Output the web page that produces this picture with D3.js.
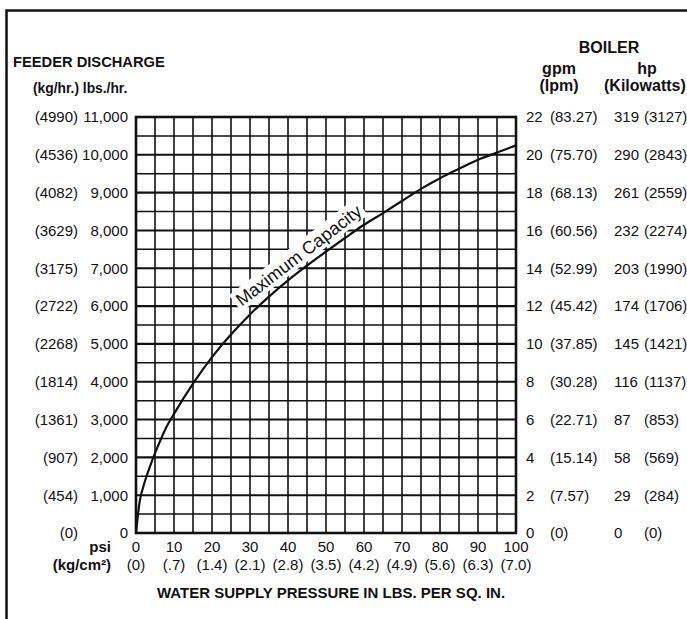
<!DOCTYPE html>
<html>
<head>
<meta charset="utf-8">
<script src="https://cdn.jsdelivr.net/npm/d3@7"></script>
<style>
  body { margin: 0; background: #fff; }
  svg text { font-family: "Liberation Sans", Arial, Helvetica, sans-serif; fill: #111; }
</style>
</head>
<body>
<svg id="chart" width="687" height="619"></svg>
<script>
const psi = [0, 1, 2, 4, 6, 8, 10, 15, 20, 25, 30, 35, 40, 45, 50, 55, 60, 65, 70, 75, 80, 85, 90, 95, 100];
const lbs = [0, 850, 1250, 1850, 2350, 2800, 3150, 3950, 4650, 5250, 5780, 6250, 6680, 7070, 7440, 7800, 8150, 8460, 8780, 9100, 9380, 9630, 9870, 10060, 10250];

const psiTicks = [0, 10, 20, 30, 40, 50, 60, 70, 80, 90, 100];
const kgcmLabels = ["(0)", "(.7)", "(1.4)", "(2.1)", "(2.8)", "(3.5)", "(4.2)", "(4.9)", "(5.6)", "(6.3)", "(7.0)"];

const lbsTicks = [0, 1000, 2000, 3000, 4000, 5000, 6000, 7000, 8000, 9000, 10000, 11000];
const kgLabels = ["(0)", "(454)", "(907)", "(1361)", "(1814)", "(2268)", "(2722)", "(3175)", "(3629)", "(4082)", "(4536)", "(4990)"];
const gpmLabels = ["0", "2", "4", "6", "8", "10", "12", "14", "16", "18", "20", "22"];
const lpmLabels = ["(0)", "(7.57)", "(15.14)", "(22.71)", "(30.28)", "(37.85)", "(45.42)", "(52.99)", "(60.56)", "(68.13)", "(75.70)", "(83.27)"];
const hpLabels = ["0", "29", "58", "87", "116", "145", "174", "203", "232", "261", "290", "319"];
const kwLabels = ["(0)", "(284)", "(569)", "(853)", "(1137)", "(1421)", "(1706)", "(1990)", "(2274)", "(2559)", "(2843)", "(3127)"];

const curveLabel = "Maximum Capacity";
const labelAt = {psi: 27.8, lbs: 5980};

const svg = d3.select("#chart");

// outer frame (runs off the right and bottom edges)
svg.append("rect")
  .attr("x", 6.5).attr("y", 10.5)
  .attr("width", 720).attr("height", 700)
  .attr("fill", "none").attr("stroke", "#111").attr("stroke-width", 2.5);

const x = d3.scaleLinear().domain([0, 100]).range([136, 516]);
const y = d3.scaleLinear().domain([0, 11000]).range([533, 117]);

const g = svg.append("g");

// grid
g.selectAll(".vline")
  .data(d3.range(0, 101, 5))
  .enter().append("line")
  .attr("x1", d => x(d)).attr("x2", d => x(d))
  .attr("y1", y(0)).attr("y2", y(11000))
  .attr("stroke", "#111").attr("stroke-width", 1.6);

g.selectAll(".hline")
  .data(d3.range(0, 11001, 500))
  .enter().append("line")
  .attr("x1", x(0)).attr("x2", x(100))
  .attr("y1", d => y(d)).attr("y2", d => y(d))
  .attr("stroke", "#111")
  .attr("stroke-width", d => d % 1000 === 0 ? 2.1 : 1.5);

g.append("rect")
  .attr("x", x(0)).attr("y", y(11000))
  .attr("width", x(100) - x(0)).attr("height", y(0) - y(11000))
  .attr("fill", "none").attr("stroke", "#111").attr("stroke-width", 2.6);

// curve label with white knock-out
const lab = g.append("g")
  .attr("transform", `translate(${x(labelAt.psi)},${y(labelAt.lbs)}) rotate(-37.5)`);
const labText = lab.append("text")
  .attr("font-size", 18)
  .text(curveLabel);
const bb = labText.node().getBBox();
lab.insert("rect", "text")
  .attr("x", bb.x - 3).attr("y", bb.y - 1)
  .attr("width", bb.width + 6).attr("height", bb.height + 1)
  .attr("fill", "#fff");

// curve
const line = d3.line()
  .x((d, i) => x(psi[i]))
  .y((d, i) => y(lbs[i]))
  .curve(d3.curveMonotoneX);
g.append("path")
  .datum(psi)
  .attr("d", line)
  .attr("fill", "none")
  .attr("stroke", "#111")
  .attr("stroke-width", 2.2);

// left labels
const left = svg.append("g").attr("font-size", 15);
left.selectAll(".lbs").data(lbsTicks).enter().append("text")
  .attr("x", 128).attr("y", d => y(d)).attr("dy", "0.36em")
  .attr("text-anchor", "end")
  .text(d => d3.format(",")(d));
left.selectAll(".kg").data(lbsTicks).enter().append("text")
  .attr("x", 78).attr("y", d => y(d)).attr("dy", "0.36em")
  .attr("text-anchor", "end")
  .text((d, i) => kgLabels[i]);

// right labels
const right = svg.append("g").attr("font-size", 15);
[[gpmLabels, 526], [lpmLabels, 550], [hpLabels, 614], [kwLabels, 644]].forEach(([labels, px]) => {
  right.selectAll(null).data(lbsTicks).enter().append("text")
    .attr("x", px).attr("y", d => y(d)).attr("dy", "0.36em")
    .text((d, i) => labels[i]);
});

// bottom labels
const bottom = svg.append("g").attr("font-size", 15).attr("text-anchor", "middle");
bottom.selectAll(".psi").data(psiTicks).enter().append("text")
  .attr("x", d => x(d)).attr("y", 552)
  .text(d => d);
bottom.selectAll(".kgcm").data(psiTicks).enter().append("text")
  .attr("x", d => x(d)).attr("y", 570)
  .text((d, i) => kgcmLabels[i]);

// titles
const bold = svg.append("g").attr("font-weight", "bold");
bold.append("text").attr("x", 13).attr("y", 67).attr("font-size", 14.7).text("FEEDER DISCHARGE");
bold.append("text").attr("x", 33).attr("y", 93).attr("font-size", 13.8).text("(kg/hr.) lbs./hr.");
bold.append("text").attr("x", 609).attr("y", 53).attr("font-size", 16).attr("text-anchor", "middle").text("BOILER");
bold.append("text").attr("x", 559).attr("y", 74).attr("font-size", 16).attr("text-anchor", "middle").text("gpm");
bold.append("text").attr("x", 647).attr("y", 74).attr("font-size", 16).attr("text-anchor", "middle").text("hp");
bold.append("text").attr("x", 559).attr("y", 91).attr("font-size", 16).attr("text-anchor", "middle").text("(lpm)");
bold.append("text").attr("x", 604).attr("y", 91).attr("font-size", 16).text("(Kilowatts)");
bold.append("text").attr("x", 111).attr("y", 552).attr("font-size", 15).attr("text-anchor", "end").text("psi");
bold.append("text").attr("x", 111).attr("y", 570).attr("font-size", 15).attr("text-anchor", "end").text("(kg/cm²)");
bold.append("text").attr("x", 331).attr("y", 598).attr("font-size", 15).attr("text-anchor", "middle").text("WATER SUPPLY PRESSURE IN LBS. PER SQ. IN.");
</script>
</body>
</html>
